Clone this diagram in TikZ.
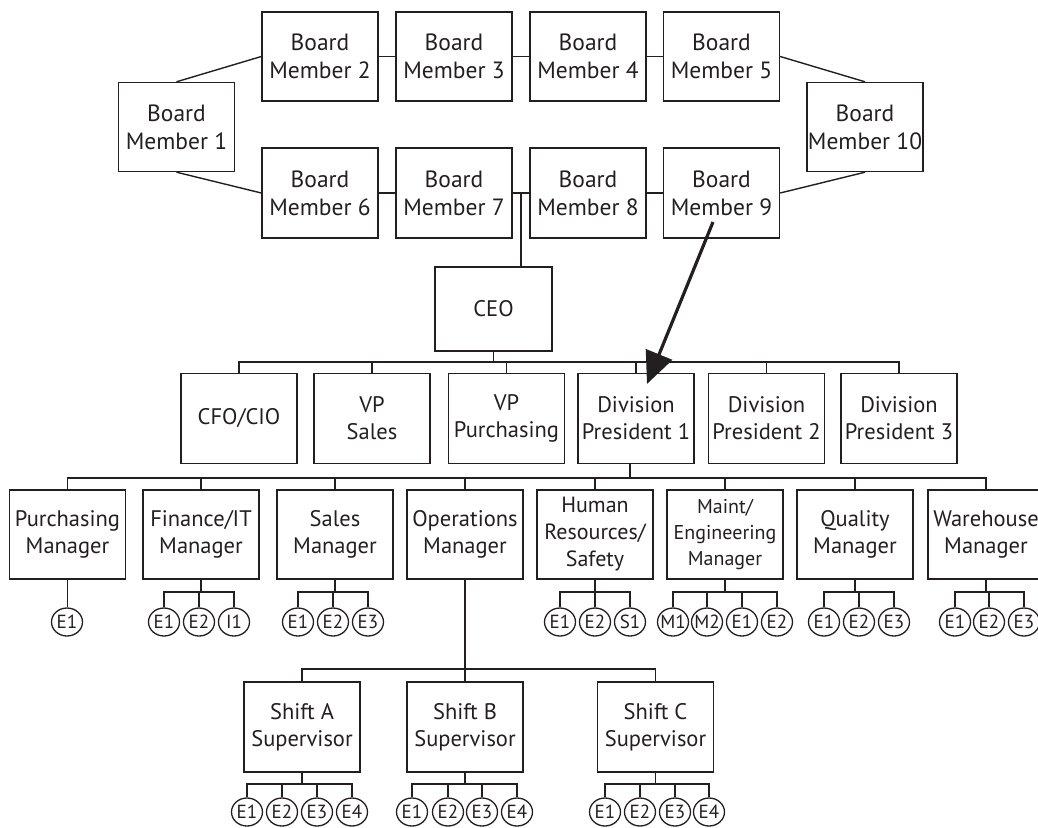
\documentclass[tikz,border=0pt]{standalone}
\usepackage{fontspec}
\setmainfont{PT Sans}
\usetikzlibrary{arrows.meta,shapes.geometric,calc}
\definecolor{ink}{HTML}{231F20}
\tikzset{
  box/.style={draw=ink, line width=1.4pt, minimum width=116pt, minimum height=90pt, inner sep=0pt, align=center, text=ink, font=\fontsize{22.5}{27}\selectfont},
  bbox/.style={box, font=\fontsize{23.5}{28}\selectfont},
  emp/.style={draw=ink, line width=1.3pt, ellipse, minimum width=31pt, minimum height=28pt, inner sep=-5pt, text=ink, font=\fontsize{19}{19}\selectfont},
  ln/.style={draw=ink, line width=1.4pt},
  bigarrow/.style={draw=ink, line width=3.2pt, -{Triangle[length=32pt,width=28pt]}}
}
\begin{document}
\begin{tikzpicture}[x=1pt,y=-1pt]
\useasboundingbox (0,0) rectangle (1038,827);
% Board
\node[bbox, minimum height=89pt] (bm1) at (176.5,127) {Board\\Member 1};
\node[bbox, minimum height=89pt] (bm2) at (320,56.5) {Board\\Member 2};
\node[bbox, minimum height=89pt] (bm3) at (454,56.5) {Board\\Member 3};
\node[bbox, minimum height=89pt] (bm4) at (588,56.5) {Board\\Member 4};
\node[bbox, minimum height=89pt] (bm5) at (721.5,56.5) {Board\\Member 5};
\node[bbox] (bm6) at (320,193) {Board\\Member 6};
\node[bbox] (bm7) at (454,193) {Board\\Member 7};
\node[bbox] (bm8) at (588,193) {Board\\Member 8};
\node[bbox] (bm9) at (721.5,193) {Board\\Member 9};
\node[bbox, minimum height=89pt] (bm10) at (865,127) {Board\\Member 10};
\draw[ln] (bm1.north) -- (bm2.west);
\draw[ln] (bm1.south) -- (bm6.west);
\draw[ln] (bm2) -- (bm3);
\draw[ln] (bm3) -- (bm4);
\draw[ln] (bm4) -- (bm5);
\draw[ln] (bm6) -- (bm7);
\draw[ln] (bm7) -- (bm8);
\draw[ln] (bm8) -- (bm9);
\draw[ln] (bm5.east) -- (bm10.north);
\draw[ln] (bm10.south) -- (bm9.east);
% CEO
\node[box, minimum width=117pt, minimum height=84pt] (ceo) at (493.5,309) {CEO};
\coordinate (j78) at ($(bm7.east)!0.5!(bm8.west)$);
\draw[ln] (j78) -- (j78 |- ceo.north);
% Row 2
\node[box] (cfo) at (239,418.5) {CFO/CIO};
\node[box] (vps) at (372,418.5) {VP\\Sales};
\node[box] (vpp) at (506.5,418.5) {VP\\Purchasing};
\node[box] (div1) at (636,418.5) {Division\\President 1};
\node[box] (div2) at (766.5,418.5) {Division\\President 2};
\node[box] (div3) at (899,418.5) {Division\\President 3};
\coordinate (r2) at (0,362);
\draw[ln] (ceo.south) -- (ceo.south |- r2);
\draw[ln] (cfo.north) |- (div3.north |- r2) -- (div3.north);
\foreach \n in {vps,vpp,div1,div2} \draw[ln] (\n.north) -- (\n.north |- r2);
% Row 3
\node[box, minimum height=89pt] (pur) at (67.5,534.5) {Purchasing\\Manager};
\node[box, minimum height=89pt] (fin) at (201,534.5) {Finance/IT\\Manager};
\node[box, minimum height=89pt] (sal) at (335,534.5) {Sales\\Manager};
\node[box, minimum height=89pt] (ops) at (465,534.5) {Operations\\Manager};
\node[box, minimum height=89pt, font=\fontsize{22}{27}\selectfont] (hr) at (595,534.5) {Human\\Resources/\\Safety};
\node[box, minimum height=89pt, font=\fontsize{20}{26}\selectfont] (mnt) at (725,534.5) {Maint/\\Engineering\\Manager};
\node[box, minimum height=89pt] (qua) at (855,534.5) {Quality\\Manager};
\node[box, minimum height=89pt] (war) at (986,534.5) {Warehouse\\Manager};
\coordinate (r3) at (0,478);
\coordinate (d1) at (630,0);
\draw[ln] (d1 |- div1.south) -- (d1 |- r3);
\draw[ln] (pur.north) |- (war.north |- r3) -- (war.north);
\foreach \n in {fin,sal,ops,hr,mnt,qua} \draw[ln] (\n.north) -- (\n.north |- r3);
% Employee circles, row 3
\coordinate (e3) at (0,592);
\node[emp] (pur1) at (67,622) {E1};
\draw[ln] (pur.south) -- (pur.south |- pur1.north);
\node[emp] (fin1) at (164,622) {E1};
\node[emp] (fin2) at (199,622) {E2};
\node[emp] (fin3) at (234,622) {I1};
\node[emp] (sal1) at (298,622) {E1};
\node[emp] (sal2) at (333,622) {E2};
\node[emp] (sal3) at (368,622) {E3};
\node[emp] (hr1) at (560,622) {E1};
\node[emp] (hr2) at (595,622) {E2};
\node[emp] (hr3) at (630,622) {S1};
\node[emp] (mnt1) at (673,622) {M1};
\node[emp] (mnt2) at (707,622) {M2};
\node[emp] (mnt3) at (742,622) {E1};
\node[emp] (mnt4) at (777,622) {E2};
\node[emp] (qua1) at (824,622) {E1};
\node[emp] (qua2) at (859,622) {E2};
\node[emp] (qua3) at (894,622) {E3};
\node[emp] (war1) at (955,622) {E1};
\node[emp] (war2) at (989,622) {E2};
\node[emp] (war3) at (1024,622) {E3};
\foreach \m/\a/\b in {fin/fin1/fin3,sal/sal1/sal3,hr/hr1/hr3,mnt/mnt1/mnt4,qua/qua1/qua3,war/war1/war3}{
  \draw[ln] (\m.south) -- (\m.south |- e3);
  \draw[ln] (\a.north) |- (\b.north |- e3) -- (\b.north);
}
\foreach \n in {fin2,sal2,hr2,mnt2,mnt3,qua2,war2} \draw[ln] (\n.north) -- (\n.north |- e3);
% Shift supervisors
\node[box] (sha) at (302,727) {Shift A\\Supervisor};
\node[box] (shb) at (465,727) {Shift B\\Supervisor};
\node[box] (shc) at (655.5,727) {Shift C\\Supervisor};
\coordinate (r4) at (0,669);
\draw[ln] (ops.south) -- (ops.south |- r4);
\draw[ln] (sha.north) |- (shc.north |- r4) -- (shc.north);
\draw[ln] (shb.north) -- (shb.north |- r4);
\coordinate (e5) at (0,784);
\node[emp] (sa1) at (247,812) {E1};
\node[emp] (sa2) at (282,812) {E2};
\node[emp] (sa3) at (317,812) {E3};
\node[emp] (sa4) at (352,812) {E4};
\node[emp] (sb1) at (412,812) {E1};
\node[emp] (sb2) at (448,812) {E2};
\node[emp] (sb3) at (482,812) {E3};
\node[emp] (sb4) at (517,812) {E4};
\node[emp] (sc1) at (605,812) {E1};
\node[emp] (sc2) at (640,812) {E2};
\node[emp] (sc3) at (675,812) {E3};
\node[emp] (sc4) at (709,812) {E4};
\foreach \m/\p in {sha/sa,shb/sb,shc/sc}{
  \draw[ln] (\m.south) -- (\m.south |- e5);
  \draw[ln] (\p1.north) |- (\p4.north |- e5) -- (\p4.north);
  \draw[ln] (\p2.north) -- (\p2.north |- e5);
  \draw[ln] (\p3.north) -- (\p3.north |- e5);
}
% Arrow
\coordinate (a1) at (713,222);
\coordinate (a2) at (647,384);
\draw[bigarrow] (a1) -- (a2);
\end{tikzpicture}
\end{document}
